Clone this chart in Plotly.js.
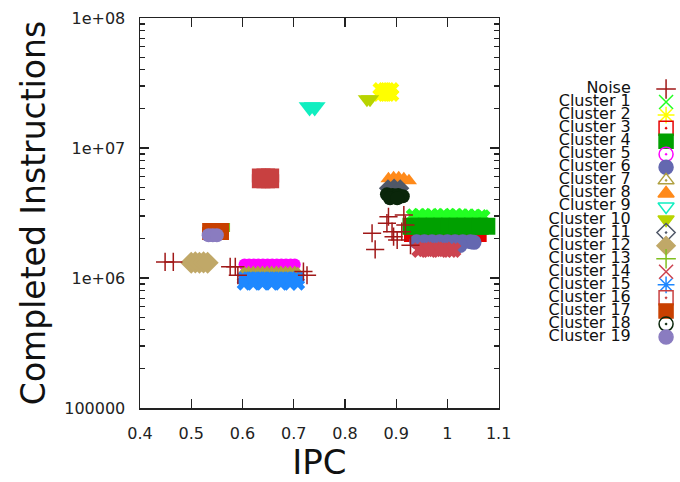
<!DOCTYPE html>
<html><head><meta charset="utf-8">
<script src="https://cdn.plot.ly/plotly-3.0.1.min.js"></script>
<style>html,body{margin:0;padding:0;background:#fff}#chart{width:680px;height:482px}</style>
</head><body><div id="chart"></div>
<script>
// ---- data ----
const names = ['Noise','Cluster 1','Cluster 2','Cluster 3','Cluster 4','Cluster 5','Cluster 6','Cluster 7','Cluster 8','Cluster 9','Cluster 10','Cluster 11','Cluster 12','Cluster 13','Cluster 14','Cluster 15','Cluster 16','Cluster 17','Cluster 18','Cluster 19'];

const noiseX = [0.449,0.465,0.576,0.586,0.591,0.719,0.726,0.853,0.859,0.885,0.882,0.892,0.895,0.902,0.915,0.911,0.918,0.928];
const noiseY = [1.33e6,1.33e6,1.22e6,1.22e6,1.05e6,1.12e6,1.05e6,2.21e6,1.66e6,2.96e6,2.64e6,2.27e6,2.08e6,1.96e6,3.05e6,2.27e6,2.56e6,1.79e6];
const c1X = [0.933,0.945,0.957,0.969,0.981,0.993,1.005,1.017,1.029,1.041,1.053,1.065,1.07];
const c1Y = [3.02e6,3.04e6,3.02e6,3.04e6,3.02e6,3.04e6,3.02e6,3.04e6,3.02e6,3.02e6,3.0e6,2.98e6,2.96e6];
const c2X = [0.867,0.876,0.885,0.893,0.867,0.876,0.885,0.893];
const c2Y = [2.85e7,2.85e7,2.85e7,2.85e7,2.55e7,2.55e7,2.55e7,2.55e7];
const c3X = [0.928,0.945,0.962,0.979,0.996,1.013,1.03,1.047,1.064];
const c3Y = [2.12e6,2.12e6,2.12e6,2.12e6,2.12e6,2.12e6,2.12e6,2.12e6,2.12e6];
const c4X = [0.929,0.944,0.959,0.974,0.989,1.004,1.019,1.034,1.049,1.064,1.077];
const c4Y = [2.5e6,2.5e6,2.5e6,2.5e6,2.5e6,2.5e6,2.5e6,2.5e6,2.5e6,2.5e6,2.5e6];
const c5X = [0.604,0.613,0.622,0.631,0.640,0.649,0.658,0.667,0.676,0.685,0.694,0.702];
const c5Y = [1.27e6,1.27e6,1.27e6,1.27e6,1.27e6,1.27e6,1.27e6,1.27e6,1.27e6,1.27e6,1.27e6,1.27e6];
const c6X = [0.940,0.955,0.970,0.985,1.000,1.015,1.030,1.045,1.052,0.950,0.975,1.000,1.025];
const c6Y = [1.9e6,1.9e6,1.9e6,1.9e6,1.9e6,1.9e6,1.9e6,1.9e6,1.88e6,1.78e6,1.78e6,1.78e6,1.78e6];
const c7X = [0.603,0.612,0.621,0.630,0.639,0.648,0.657,0.666,0.675,0.684,0.693,0.702,0.708];
const c7Y = [1.12e6,1.12e6,1.12e6,1.12e6,1.12e6,1.12e6,1.12e6,1.12e6,1.12e6,1.12e6,1.12e6,1.12e6,1.1e6];
const c8X = [0.885,0.895,0.905,0.915,0.925];
const c8Y = [5.8e6,5.9e6,5.9e6,5.8e6,5.6e6];
const c9X = [0.731,0.741];
const c9Y = [2.07e7,2.07e7];
const c10X = [0.843,0.849];
const c10Y = [2.37e7,2.37e7];
const c11X = [0.884,0.896,0.908];
const c11Y = [4.9e6,4.95e6,4.9e6];
const c12X = [0.500,0.508,0.516,0.524,0.532];
const c12Y = [1.31e6,1.32e6,1.31e6,1.32e6,1.31e6];
const c13X = [0.553,0.561,0.567];
const c13Y = [2.45e6,2.45e6,2.45e6];
const c14X = [0.945,0.955,0.965,0.975,0.985,0.995,1.005,1.012];
const c14Y = [1.64e6,1.66e6,1.64e6,1.66e6,1.64e6,1.66e6,1.64e6,1.64e6];
const c15X = [0.603,0.612,0.621,0.630,0.639,0.648,0.657,0.666,0.675,0.684,0.693,0.702,0.708,0.603,0.621,0.639,0.657,0.675,0.693,0.708];
const c15Y = [9.9e5,9.9e5,9.9e5,9.9e5,9.9e5,9.9e5,9.9e5,9.9e5,9.9e5,9.9e5,9.9e5,9.9e5,9.9e5,9.1e5,9.1e5,9.1e5,9.1e5,9.1e5,9.1e5,9.1e5];
const c16X = [0.632,0.641,0.650,0.658,0.632,0.641,0.650,0.658];
const c16Y = [6.15e6,6.15e6,6.15e6,6.15e6,5.55e6,5.55e6,5.55e6,5.55e6];
const c17X = [0.534,0.543,0.552,0.561,0.534,0.561];
const c17Y = [2.36e6,2.36e6,2.36e6,2.36e6,2.2e6,2.2e6];
const c18X = [0.882,0.893,0.904,0.913,0.888,0.902];
const c18Y = [4.4e6,4.35e6,4.35e6,4.25e6,4.1e6,4.1e6];
const c19X = [0.534,0.542,0.550];
const c19Y = [2.13e6,2.13e6,2.13e6];

const yTickVals = [1e5,1e6,1e7,1e8];
const yTickText = ['100000','1e+06','1e+07','1e+08'];
const xTickVals = [0.4,0.5,0.6,0.7,0.8,0.9,1,1.1];

// ---- styles ----
const seriesX = [noiseX,c1X,c2X,c3X,c4X,c5X,c6X,c7X,c8X,c9X,c10X,c11X,c12X,c13X,c14X,c15X,c16X,c17X,c18X,c19X];
const seriesY = [noiseY,c1Y,c2Y,c3Y,c4Y,c5Y,c6Y,c7Y,c8Y,c9Y,c10Y,c11Y,c12Y,c13Y,c14Y,c15Y,c16Y,c17Y,c18Y,c19Y];
const colors = ['#a01818','#22ff22','#ffff00','#e60000','#00a000','#ff00ff','#6468b0','#b0a040','#ff8a1a','#10eec0','#b8d400','#505868','#c0a868','#80c020','#cc4450','#1e88ff','#c84040','#c84000','#0a260a','#8a7cc0'];
const blobSym = ['cross-thin-open','x','x','square','square','circle','circle','triangle-up','triangle-up','triangle-down','triangle-down','diamond','diamond','square','x','x','square','square','circle','circle'];
const blobSize = [13,13,12,13,17,12,15,12,14,19,16,14,17,9,14,13,14,13,14,14];
const legSym = ['cross-thin-open','x-thin-open','asterisk-open','square-open-dot','square','circle-open-dot','circle','triangle-up-open-dot','triangle-up','triangle-down-open','triangle-down','diamond-open-dot','diamond','cross-thin-open','x-thin-open','asterisk-open','square-open-dot','square','circle-open-dot','circle'];

const traces = [];
// clusters first, noise drawn last (on top)
const order = [];
for (let i = 1; i < names.length; i++) order.push(i);
order.push(0);
order.forEach(i => {
  const lineSym = blobSym[i].indexOf('open') >= 0;
  traces.push({
    type: 'scatter', mode: 'markers', name: names[i],
    x: seriesX[i], y: seriesY[i], xaxis: 'x', yaxis: 'y',
    marker: {symbol: blobSym[i], size: blobSize[i], color: colors[i],
      line: {color: colors[i], width: lineSym ? 1.5 : 0}},
    showlegend: false, hoverinfo: 'skip'
  });
});

// custom gnuplot-style key: text right-aligned, symbol on the right
const idx = names.map((_, i) => i);
traces.push({
  type: 'scatter', mode: 'text', x: names.map(() => 0.728), y: idx,
  text: names, textposition: 'middle left', xaxis: 'x2', yaxis: 'y2',
  textfont: {family: 'DejaVu Sans', size: 16, color: '#111'},
  showlegend: false, hoverinfo: 'skip', cliponaxis: false
});
traces.push({
  type: 'scatter', mode: 'markers', x: names.map(() => 0.923), y: idx,
  xaxis: 'x2', yaxis: 'y2',
  marker: {symbol: legSym, size: 14, color: colors,
    line: {color: colors, width: 1.5}},
  showlegend: false, hoverinfo: 'skip', cliponaxis: false
});

const layout = {
  width: 680, height: 482,
  margin: {l: 140, r: 0, t: 18, b: 74},
  paper_bgcolor: '#fff', plot_bgcolor: '#fff',
  showlegend: false, hovermode: false,
  font: {family: 'DejaVu Sans', color: '#111'},
  xaxis: {
    domain: [0, 0.6641], range: [0.4, 1.1],
    tickmode: 'array', tickvals: xTickVals,
    ticks: 'inside', ticklen: 9, tickwidth: 1.2, tickcolor: '#222',
    showline: true, linecolor: '#222', linewidth: 1.5, mirror: 'ticks',
    showgrid: false, zeroline: false,
    tickfont: {family: 'DejaVu Sans', size: 16, color: '#222'},
    ticklabelstandoff: 10,
    title: {text: 'IPC', font: {family: 'DejaVu Sans', size: 34, color: '#111'}, standoff: 6}
  },
  yaxis: {
    type: 'log', range: [5, 8],
    tickmode: 'array', tickvals: yTickVals, ticktext: yTickText,
    ticks: 'inside', ticklen: 9, tickwidth: 1.2, tickcolor: '#222',
    minor: {ticks: 'inside', ticklen: 5, tickwidth: 1.2, tickcolor: '#222', dtick: 'D1'},
    showline: true, linecolor: '#222', linewidth: 1.5, mirror: 'ticks',
    showgrid: false, zeroline: false,
    tickfont: {family: 'DejaVu Sans', size: 16, color: '#222'},
    ticklabelstandoff: 10,
    title: {text: 'Completed Instructions', font: {family: 'DejaVu Sans', size: 33, color: '#111'}, standoff: 8}
  },
  xaxis2: {domain: [0.665, 1], range: [0, 1], visible: false, anchor: 'y2'},
  yaxis2: {domain: [0, 1], range: [24.44, -5.44], visible: false, anchor: 'x2'}
};

Plotly.newPlot('chart', traces, layout, {displayModeBar: false, staticPlot: true});
</script>
</body></html>
